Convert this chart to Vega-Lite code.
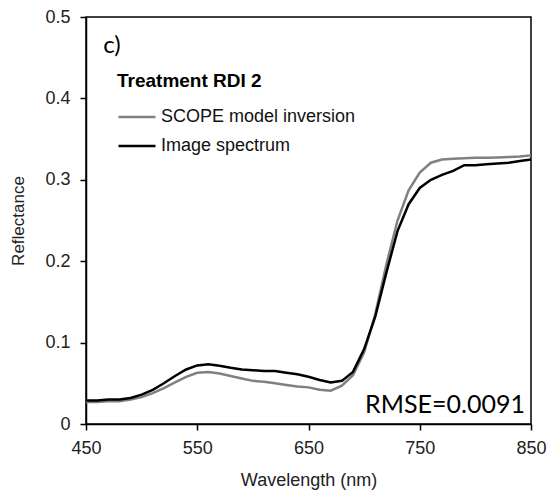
{
  "$schema": "https://vega.github.io/schema/vega-lite/v6.json",
  "autosize": {"type": "none"},
  "padding": {"left": 86, "top": 17, "right": 16, "bottom": 70},
  "width": 445,
  "height": 407,
  "background": "white",
  "config": {
    "view": {"stroke": "#000000", "strokeWidth": 1.5},
    "font": "Liberation Sans"
  },
  "layer": [
    {
      "data": {"values": [
        {"wl":450,"r":0.027,"series":"SCOPE model inversion"},
        {"wl":460,"r":0.027,"series":"SCOPE model inversion"},
        {"wl":470,"r":0.028,"series":"SCOPE model inversion"},
        {"wl":480,"r":0.028,"series":"SCOPE model inversion"},
        {"wl":490,"r":0.030,"series":"SCOPE model inversion"},
        {"wl":500,"r":0.033,"series":"SCOPE model inversion"},
        {"wl":510,"r":0.038,"series":"SCOPE model inversion"},
        {"wl":520,"r":0.044,"series":"SCOPE model inversion"},
        {"wl":530,"r":0.051,"series":"SCOPE model inversion"},
        {"wl":540,"r":0.058,"series":"SCOPE model inversion"},
        {"wl":550,"r":0.063,"series":"SCOPE model inversion"},
        {"wl":560,"r":0.064,"series":"SCOPE model inversion"},
        {"wl":570,"r":0.062,"series":"SCOPE model inversion"},
        {"wl":580,"r":0.059,"series":"SCOPE model inversion"},
        {"wl":590,"r":0.056,"series":"SCOPE model inversion"},
        {"wl":600,"r":0.053,"series":"SCOPE model inversion"},
        {"wl":610,"r":0.052,"series":"SCOPE model inversion"},
        {"wl":620,"r":0.050,"series":"SCOPE model inversion"},
        {"wl":630,"r":0.048,"series":"SCOPE model inversion"},
        {"wl":640,"r":0.046,"series":"SCOPE model inversion"},
        {"wl":650,"r":0.045,"series":"SCOPE model inversion"},
        {"wl":660,"r":0.042,"series":"SCOPE model inversion"},
        {"wl":670,"r":0.041,"series":"SCOPE model inversion"},
        {"wl":680,"r":0.047,"series":"SCOPE model inversion"},
        {"wl":690,"r":0.060,"series":"SCOPE model inversion"},
        {"wl":700,"r":0.088,"series":"SCOPE model inversion"},
        {"wl":710,"r":0.135,"series":"SCOPE model inversion"},
        {"wl":720,"r":0.196,"series":"SCOPE model inversion"},
        {"wl":730,"r":0.250,"series":"SCOPE model inversion"},
        {"wl":740,"r":0.287,"series":"SCOPE model inversion"},
        {"wl":750,"r":0.309,"series":"SCOPE model inversion"},
        {"wl":760,"r":0.321,"series":"SCOPE model inversion"},
        {"wl":770,"r":0.325,"series":"SCOPE model inversion"},
        {"wl":780,"r":0.326,"series":"SCOPE model inversion"},
        {"wl":790,"r":0.3265,"series":"SCOPE model inversion"},
        {"wl":800,"r":0.327,"series":"SCOPE model inversion"},
        {"wl":810,"r":0.327,"series":"SCOPE model inversion"},
        {"wl":820,"r":0.3275,"series":"SCOPE model inversion"},
        {"wl":830,"r":0.328,"series":"SCOPE model inversion"},
        {"wl":840,"r":0.3285,"series":"SCOPE model inversion"},
        {"wl":850,"r":0.330,"series":"SCOPE model inversion"},
        {"wl":450,"r":0.029,"series":"Image spectrum"},
        {"wl":460,"r":0.029,"series":"Image spectrum"},
        {"wl":470,"r":0.030,"series":"Image spectrum"},
        {"wl":480,"r":0.030,"series":"Image spectrum"},
        {"wl":490,"r":0.032,"series":"Image spectrum"},
        {"wl":500,"r":0.036,"series":"Image spectrum"},
        {"wl":510,"r":0.042,"series":"Image spectrum"},
        {"wl":520,"r":0.050,"series":"Image spectrum"},
        {"wl":530,"r":0.059,"series":"Image spectrum"},
        {"wl":540,"r":0.067,"series":"Image spectrum"},
        {"wl":550,"r":0.072,"series":"Image spectrum"},
        {"wl":560,"r":0.0735,"series":"Image spectrum"},
        {"wl":570,"r":0.0715,"series":"Image spectrum"},
        {"wl":580,"r":0.069,"series":"Image spectrum"},
        {"wl":590,"r":0.067,"series":"Image spectrum"},
        {"wl":600,"r":0.066,"series":"Image spectrum"},
        {"wl":610,"r":0.065,"series":"Image spectrum"},
        {"wl":620,"r":0.065,"series":"Image spectrum"},
        {"wl":630,"r":0.063,"series":"Image spectrum"},
        {"wl":640,"r":0.061,"series":"Image spectrum"},
        {"wl":650,"r":0.058,"series":"Image spectrum"},
        {"wl":660,"r":0.054,"series":"Image spectrum"},
        {"wl":670,"r":0.051,"series":"Image spectrum"},
        {"wl":680,"r":0.053,"series":"Image spectrum"},
        {"wl":690,"r":0.064,"series":"Image spectrum"},
        {"wl":700,"r":0.092,"series":"Image spectrum"},
        {"wl":710,"r":0.132,"series":"Image spectrum"},
        {"wl":720,"r":0.186,"series":"Image spectrum"},
        {"wl":730,"r":0.237,"series":"Image spectrum"},
        {"wl":740,"r":0.270,"series":"Image spectrum"},
        {"wl":750,"r":0.290,"series":"Image spectrum"},
        {"wl":760,"r":0.300,"series":"Image spectrum"},
        {"wl":770,"r":0.306,"series":"Image spectrum"},
        {"wl":780,"r":0.311,"series":"Image spectrum"},
        {"wl":790,"r":0.318,"series":"Image spectrum"},
        {"wl":800,"r":0.318,"series":"Image spectrum"},
        {"wl":810,"r":0.319,"series":"Image spectrum"},
        {"wl":820,"r":0.320,"series":"Image spectrum"},
        {"wl":830,"r":0.321,"series":"Image spectrum"},
        {"wl":840,"r":0.323,"series":"Image spectrum"},
        {"wl":850,"r":0.325,"series":"Image spectrum"}
      ]},
      "mark": {"type": "line", "strokeWidth": 2.5},
      "encoding": {
        "x": {
          "field": "wl", "type": "quantitative",
          "scale": {"domain": [450, 850], "nice": false, "zero": false},
          "axis": {
            "title": "Wavelength (nm)", "values": [450, 550, 650, 750, 850],
            "grid": false, "domainColor": "#000", "domainWidth": 1.5,
            "tickColor": "#000", "tickWidth": 1.5, "tickSize": 6,
            "labelFontSize": 18, "labelColor": "#222", "labelPadding": 9,
            "labelFont": "Liberation Sans", "labelFlush": false,
            "titleFontSize": 18, "titleFontWeight": "normal", "titleColor": "#222",
            "titleFont": "Liberation Sans", "titlePadding": 14
          }
        },
        "y": {
          "field": "r", "type": "quantitative",
          "scale": {"domain": [0, 0.5], "nice": false},
          "axis": {
            "title": "Reflectance", "values": [0, 0.1, 0.2, 0.3, 0.4, 0.5], "format": "~g",
            "grid": false, "domainColor": "#000", "domainWidth": 1.5,
            "tickColor": "#000", "tickWidth": 1.5, "tickSize": 6,
            "labelFontSize": 18, "labelColor": "#222", "labelPadding": 10,
            "labelFont": "Liberation Sans", "labelFlush": false,
            "titleFontSize": 17, "titleFontWeight": "normal", "titleColor": "#222",
            "titleFont": "Liberation Sans", "titlePadding": 17
          }
        },
        "color": {
          "field": "series", "type": "nominal",
          "scale": {"domain": ["SCOPE model inversion", "Image spectrum"], "range": ["#808080", "#000000"]},
          "legend": {
            "orient": "none", "legendX": 31, "legendY": 55,
            "title": "Treatment RDI 2", "titleFontSize": 19, "titleFontWeight": "bold",
            "titleFont": "Liberation Sans", "titleColor": "#000", "titlePadding": 6,
            "labelFontSize": 18, "labelFont": "Liberation Sans", "labelColor": "#111",
            "labelLimit": 400,
            "labelOffset": 4, "symbolType": "stroke", "symbolSize": 1369,
            "symbolStrokeWidth": 2.5, "rowPadding": -9, "padding": 0
          }
        },
        "order": {"field": "series", "sort": "descending"}
      }
    },
    {
      "data": {"values": [{"wl": 465.5, "r": 0.456, "label": "c)"}]},
      "mark": {"type": "text", "font": "Lato", "fontSize": 24, "align": "left", "baseline": "alphabetic", "color": "#000"},
      "encoding": {
        "x": {"field": "wl", "type": "quantitative"},
        "y": {"field": "r", "type": "quantitative"},
        "text": {"field": "label"}
      }
    },
    {
      "data": {"values": [{"wl": 844.5, "r": 0.0135, "label": "RMSE=0.0091"}]},
      "mark": {"type": "text", "font": "Lato", "fontSize": 25, "align": "right", "baseline": "alphabetic", "color": "#000"},
      "encoding": {
        "x": {"field": "wl", "type": "quantitative"},
        "y": {"field": "r", "type": "quantitative"},
        "text": {"field": "label"}
      }
    }
  ]
}
